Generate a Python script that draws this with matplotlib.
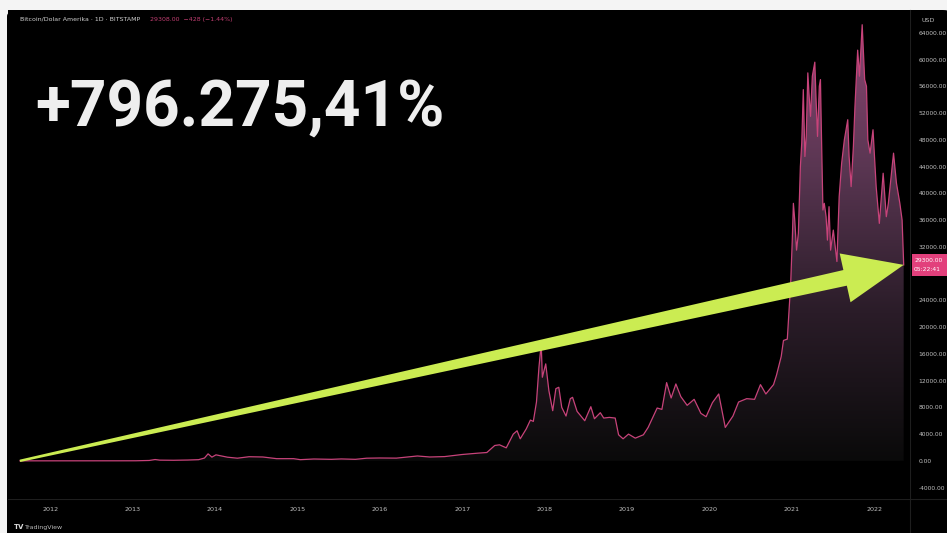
import matplotlib
matplotlib.use('Agg')
import matplotlib.pyplot as plt
import matplotlib.dates as mdates
from matplotlib.colors import LinearSegmentedColormap
from matplotlib.patches import FancyBboxPatch, Polygon, Rectangle
import numpy as np
import pandas as pd

# Bitcoin price (USD)
dates = [
    '2011-08-20', '2011-10-15', '2011-12-15', '2012-03-01', '2012-06-01', '2012-08-15',
    '2012-11-01', '2013-01-15', '2013-03-15', '2013-04-10', '2013-05-01', '2013-07-01',
    '2013-09-01', '2013-10-20', '2013-11-15', '2013-12-01', '2013-12-18', '2014-01-05',
    '2014-02-25', '2014-04-10', '2014-06-01', '2014-08-01', '2014-10-01', '2014-12-15',
    '2015-01-14', '2015-03-15', '2015-06-01', '2015-07-15', '2015-09-15', '2015-11-04',
    '2016-01-01', '2016-03-15', '2016-06-16', '2016-08-10', '2016-10-15', '2016-12-31',
    '2017-03-10', '2017-04-20', '2017-05-25', '2017-06-15', '2017-07-15', '2017-08-15',
    '2017-09-01', '2017-09-15', '2017-10-12', '2017-10-30', '2017-11-12', '2017-11-26',
    '2017-12-07', '2017-12-17', '2017-12-22', '2018-01-06', '2018-01-20', '2018-02-06',
    '2018-02-20', '2018-03-05', '2018-03-18', '2018-04-06', '2018-04-25', '2018-05-05',
    '2018-05-25', '2018-06-28', '2018-07-25', '2018-08-10', '2018-09-05', '2018-09-20',
    '2018-10-15', '2018-11-10', '2018-11-25', '2018-12-15', '2019-01-08', '2019-02-07',
    '2019-03-15', '2019-04-05', '2019-05-15', '2019-06-05', '2019-06-26', '2019-07-16',
    '2019-08-06', '2019-08-28', '2019-09-25', '2019-10-26', '2019-11-25', '2019-12-18',
    '2020-01-15', '2020-02-12', '2020-03-12', '2020-04-15', '2020-05-10', '2020-06-15',
    '2020-07-20', '2020-08-15', '2020-09-08', '2020-10-12', '2020-10-25', '2020-11-15',
    '2020-11-25', '2020-12-12', '2020-12-27', '2021-01-03', '2021-01-08', '2021-01-14',
    '2021-01-22', '2021-01-30', '2021-02-08', '2021-02-14', '2021-02-21', '2021-02-28',
    '2021-03-06', '2021-03-13', '2021-03-18', '2021-03-25', '2021-04-02', '2021-04-13',
    '2021-04-18', '2021-04-25', '2021-05-03', '2021-05-08', '2021-05-12', '2021-05-19',
    '2021-05-25', '2021-06-02', '2021-06-08', '2021-06-15', '2021-06-22', '2021-07-04',
    '2021-07-20', '2021-07-30', '2021-08-10', '2021-08-22', '2021-09-06', '2021-09-12',
    '2021-09-21', '2021-10-01', '2021-10-08', '2021-10-20', '2021-10-28', '2021-11-09',
    '2021-11-20', '2021-11-28', '2021-12-04', '2021-12-14', '2021-12-27', '2022-01-10',
    '2022-01-24', '2022-02-10', '2022-02-24', '2022-03-05', '2022-03-28', '2022-04-10',
    '2022-04-25', '2022-05-05', '2022-05-12',
]
prices = [
    3.7, 3.0, 3.5, 4.9, 5.5, 11,
    11, 15, 60, 200, 110, 90,
    125, 180, 420, 1050, 560, 900,
    550, 400, 620, 580, 330, 330,
    180, 280, 230, 290, 230, 400,
    430, 410, 730, 580, 640, 950,
    1150, 1250, 2300, 2400, 1950, 4000,
    4500, 3300, 4800, 6100, 5900, 8800,
    14000, 17500, 12500, 14500, 10500, 7500,
    10800, 11000, 8000, 6700, 9300, 9500,
    7400, 6000, 8100, 6300, 7200, 6400,
    6500, 6400, 3900, 3300, 4000, 3400,
    3900, 5000, 7900, 7700, 11700, 9400,
    11500, 9600, 8300, 9200, 7100, 6600,
    8700, 10000, 5000, 6700, 8800, 9300,
    9200, 11400, 10000, 11400, 12800, 15600,
    18000, 18200, 26500, 33000, 38500, 36000,
    31500, 34000, 44000, 47500, 55500, 45500,
    48500, 58000, 55000, 51500, 57500, 59600,
    54500, 48500, 56000, 57000, 49500, 37500,
    38500, 36500, 33000, 38000, 31500, 34500,
    29800, 39500, 44500, 48000, 51000, 45500,
    41000, 47000, 53000, 61400, 57500, 65200,
    57000, 56000, 48000, 46000, 49500, 41000,
    35500, 43000, 36500, 38500, 46000, 41500,
    38500, 36000, 29300,
]
year_ticks = list(range(2012, 2023))
price_ticks = list(range(-4000, 64001, 4000))
headline = '+796.275,41%'

W, H = 947, 533
fig = plt.figure(figsize=(W / 100, H / 100), dpi=100, facecolor='#f4f4f4')

# dark card behind the chart
card = FancyBboxPatch((7 / W, -0.02), 1.0, (H - 10) / H + 0.02,
                      boxstyle='round,pad=0,rounding_size=0.012',
                      transform=fig.transFigure, facecolor='#000000',
                      edgecolor='none', zorder=-5)
fig.patches.append(card)

ax = fig.add_axes([8 / W, (H - 499) / H, (910 - 8) / W, (499 - 10) / H])
ax.set_facecolor('#000000')
ax.set_zorder(1)

x = mdates.date2num(pd.to_datetime(dates))
y = np.array(prices, dtype=float)

ax.set_xlim(mdates.date2num(pd.Timestamp('2011-06-28')),
            mdates.date2num(pd.Timestamp('2022-06-09')))
ax.set_ylim(-5700, 67400)

# gradient fill under the price line
fill = ax.fill_between(x, y, 0, color='none', lw=0)
cmap = LinearSegmentedColormap.from_list('g', ['#0a0a0a', '#2a1c28', '#5a3652', '#8e4673'])
grad = np.linspace(0, 1, 256).reshape(-1, 1)
im = ax.imshow(grad, cmap=cmap, aspect='auto', origin='lower',
               extent=[x[0], x[-1], 0, 66000], zorder=1)
path = fill.get_paths()[0]
im.set_clip_path(path, transform=ax.transData)
ax.plot(x, y, color='#c7437a', lw=0.9, zorder=2)

# axes styling
for s in ax.spines.values():
    s.set_visible(False)
ax.yaxis.tick_right()
ax.set_yticks(price_ticks)
ax.set_yticklabels([f'{v:.2f}' for v in price_ticks])
ax.set_xticks([mdates.date2num(pd.Timestamp(f'{yr}-01-01')) for yr in year_ticks])
ax.set_xticklabels([str(yr) for yr in year_ticks])
ax.tick_params(axis='y', length=0, pad=6, labelsize=4.3, colors='#c0c0c0')
ax.tick_params(axis='x', length=0, pad=6, labelsize=4.6, colors='#c0c0c0')

# separators of the price/time scales
fig.add_artist(plt.Line2D([910 / W, 910 / W], [0.0, (H - 10) / H],
                          transform=fig.transFigure, color='#1e1e1e', lw=0.8, zorder=0))
fig.add_artist(plt.Line2D([8 / W, 1.0], [(H - 499) / H, (H - 499) / H],
                          transform=fig.transFigure, color='#1e1e1e', lw=0.8, zorder=0))

# big green arrow from first to last price
fig.canvas.draw()
S = ax.transData.transform((x[0], y[0]))
T = ax.transData.transform((x[-1], y[-1]))
u = (T - S) / np.hypot(*(T - S))
n = np.array([-u[1], u[0]])
N = T - u * 60
pts = [S + n * 1.2, N + n * 8, N + n * 25, T, N - n * 25, N - n * 8, S - n * 1.2]
arrow = Polygon(pts, closed=True, transform=None, facecolor='#cbec52',
                edgecolor='none', zorder=5)
fig.patches.append(arrow)

# headline and header texts
fig.text(35 / W, 1 - 108 / H, headline, fontsize=46, fontweight='bold',
         family='Roboto', color='#eeeeee', va='center', ha='left', zorder=6)
fig.text(20 / W, 1 - 19 / H, 'Bitcoin/Dolar Amerika · 1D · BITSTAMP',
         fontsize=4.5, color='#d0d0d0', va='center', ha='left', zorder=6)
fig.text(150 / W, 1 - 19 / H, '29308.00  −428 (−1.44%)',
         fontsize=4.5, color='#c23f72', va='center', ha='left', zorder=6)
fig.text(928 / W, 1 - 20 / H, 'USD', fontsize=4.6, color='#b8b8b8',
         va='center', ha='center', zorder=6)

# last price tag on the price scale
ty = T[1]
tag = Rectangle((912, ty - 11), 35, 22, transform=None, facecolor='#e2407c',
                edgecolor='none', zorder=6)
fig.patches.append(tag)
fig.text(914 / W, (ty + 4) / H, f'{y[-1]:.2f}', fontsize=4.3, color='white',
         va='center', ha='left', zorder=7)
fig.text(914 / W, (ty - 5) / H, '05:22:41', fontsize=4.3, color='white',
         va='center', ha='left', zorder=7)

fig.text(14 / W, 1 - 527 / H, 'TV', fontsize=5, fontweight='bold',
         color='#dddddd', va='center', ha='left', zorder=6)
fig.text(25 / W, 1 - 527 / H, 'TradingView', fontsize=4.5, color='#bbbbbb',
         va='center', ha='left', zorder=6)

fig.savefig('out.png', dpi=100, facecolor=fig.get_facecolor())
plt.close(fig)
